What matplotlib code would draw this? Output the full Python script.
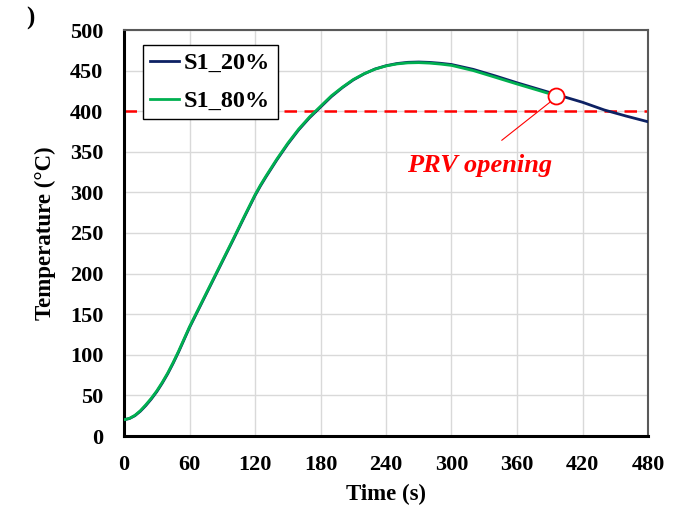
import matplotlib
matplotlib.use("Agg")
import matplotlib.pyplot as plt
import numpy as np

t_20 = [0, 5, 10, 15, 20, 25, 30, 35, 40, 45, 50, 55, 60, 70, 80, 90, 100, 110, 120, 125, 130, 140,
        150, 160, 170, 180, 190, 200, 210, 220, 230, 240, 250, 260, 270, 280, 290, 300, 320, 340,
        360, 380, 400, 420, 440, 460, 480]
temp_20 = [20, 21.5, 25, 30.5, 37.5, 45.5, 54.5, 65, 76.5, 89.5, 103.5, 118.5, 133.5, 160.5, 187.5,
           214.5, 241.5, 269, 296, 308, 319, 340, 359.5, 377, 392, 405, 418, 429, 438.5, 446, 452,
           456, 458.7, 460.2, 460.6, 460.1, 459, 457.5, 451.5, 443.5, 435, 427, 419, 411, 401.5,
           394, 387]
t_80 = [0, 5, 10, 15, 20, 25, 30, 35, 40, 45, 50, 55, 60, 70, 80, 90, 100, 110, 120, 125, 130, 140,
        150, 160, 170, 180, 190, 200, 210, 220, 230, 240, 250, 260, 270, 280, 290, 300, 320, 340,
        360, 380, 396]
temp_80 = [20, 21.7, 25.5, 31.2, 38.5, 46.5, 55.5, 66, 77.5, 90.5, 104.5, 119.5, 134.5, 161.5, 188.5,
           215.5, 242.5, 270, 297, 309, 320, 341, 360.5, 378, 393, 406, 419, 429.5, 439, 446.2,
           451.8, 455.7, 458.2, 459.5, 459.8, 459.2, 458, 456.4, 450, 441.8, 433.5, 425.5, 419]
prv_limit = 400
prv_point = (396, 419)
x_ticks = [0, 60, 120, 180, 240, 300, 360, 420, 480]
y_ticks = [0, 50, 100, 150, 200, 250, 300, 350, 400, 450, 500]

plt.rcParams['font.family'] = ['Liberation Serif', 'DejaVu Serif']
plt.rcParams['font.weight'] = 'bold'

fig = plt.figure(figsize=(6.8, 5.09), dpi=100)
ax = fig.add_axes([124/680, 1-436/509, (648-124)/680, (436-30)/509])

ax.grid(True, color='#d9d9d9', linewidth=1.0, zorder=0)
ax.set_axisbelow(True)

ax.axhline(prv_limit, color='#ff0000', linestyle=(0, (5, 3)), linewidth=1.8, zorder=2)
ax.plot(t_20, temp_20, color='#0d2163', linewidth=2.0, label='S1_20%', zorder=3,
        solid_joinstyle='round')
ax.plot(t_80, temp_80, color='#00b050', linewidth=2.0, label='S1_80%', zorder=4,
        solid_joinstyle='round')
ax.plot([prv_point[0]], [prv_point[1]], marker='o', markersize=11.5, markerfacecolor='white',
        markeredgecolor='#ff0000', markeredgewidth=1.3, zorder=5)
ax.annotate('', xy=(prv_point[0] - 4, prv_point[1] - 6), xytext=(344, 362),
            arrowprops=dict(arrowstyle='-', color='#ff0000', linewidth=0.8), zorder=5)
ax.text(326, 333, 'PRV opening', color='#ff0000', fontsize=19, fontweight='bold',
        fontstyle='italic', ha='center', va='center')

ax.set_xlim(0, 480)
ax.set_ylim(0, 500)
ax.set_xticks(x_ticks)
ax.set_yticks(y_ticks)
ax.tick_params(axis='y', length=0, labelsize=16, pad=15)
ax.tick_params(axis='x', length=0, labelsize=16, pad=14)
for lab in ax.get_xticklabels() + ax.get_yticklabels():
    lab.set_fontweight('bold')

for s in ['left', 'bottom']:
    ax.spines[s].set_color('black')
    ax.spines[s].set_linewidth(2.2)
for s in ['right', 'top']:
    ax.spines[s].set_color('#595959')
    ax.spines[s].set_linewidth(1.5)

ax.set_xlabel('Time (s)', fontsize=16.5, fontweight='bold', labelpad=6)
ax.set_ylabel('Temperature (°C)', fontsize=16.5, fontweight='bold', labelpad=10)

leg = ax.legend(loc='upper left', bbox_to_anchor=(0.036, 0.963), borderaxespad=0,
                fontsize=17.5, frameon=True, fancybox=False, edgecolor='black',
                handlelength=1.2, handletextpad=0.2, borderpad=0.3, labelspacing=0.65)
leg.get_frame().set_linewidth(1.0)
leg.get_frame().set_alpha(1)
for txt in leg.get_texts():
    txt.set_fontweight('bold')

fig.text(30/680, 1-18/509, ')', fontsize=18, fontweight='bold', ha='center', va='center')

fig.savefig('out.png', dpi=100)
